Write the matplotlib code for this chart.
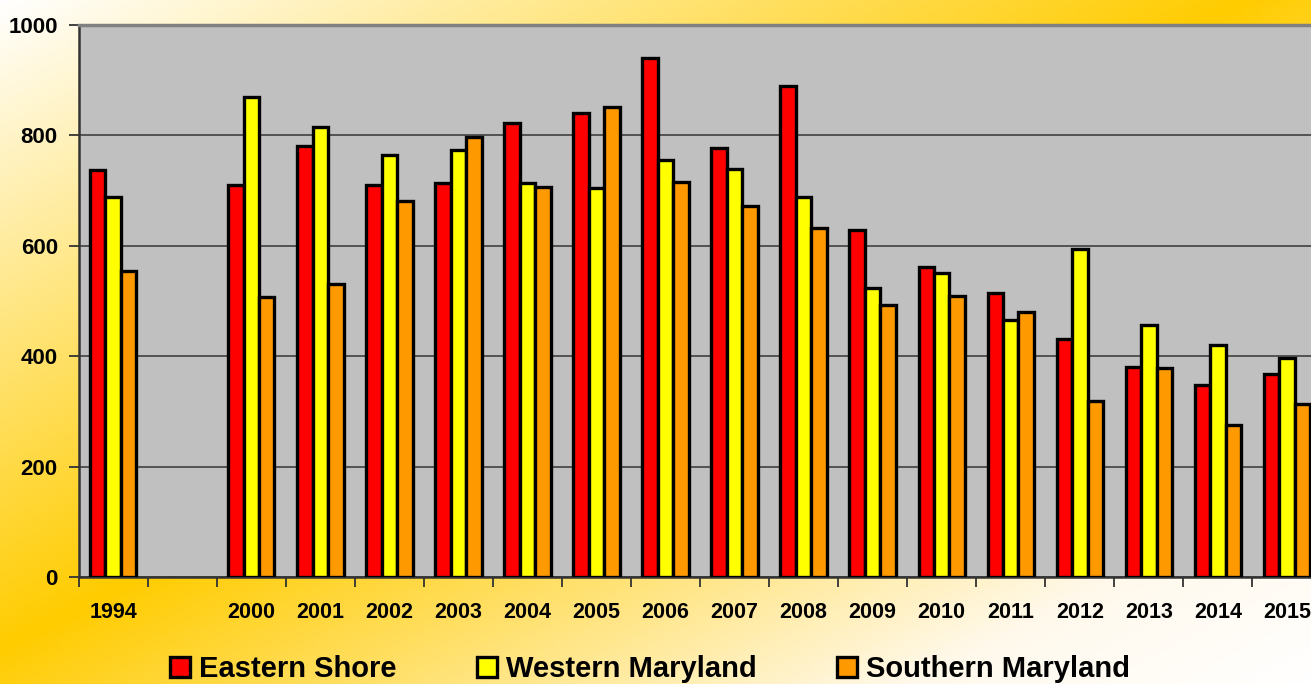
import numpy as np
import matplotlib
matplotlib.use('Agg')
from matplotlib import pyplot as plt
from matplotlib.patches import Patch

plt.rcParams['font.family'] = ['Liberation Sans', 'DejaVu Sans']
plt.rcParams['font.weight'] = 'bold'

years = ['1994', '', '2000', '2001', '2002', '2003', '2004', '2005', '2006',
         '2007', '2008', '2009', '2010', '2011', '2012', '2013', '2014', '2015']
eastern_shore = [737, None, 710, 781, 710, 714, 822, 840, 941,
                 777, 889, 628, 561, 514, 432, 380, 348, 367]
western_maryland = [688, None, 870, 815, 765, 773, 714, 704, 756,
                    739, 688, 523, 550, 466, 595, 457, 420, 396]
southern_maryland = [554, None, 507, 531, 682, 797, 707, 851, 716,
                     672, 632, 492, 509, 480, 319, 378, 275, 314]

series = [('Eastern Shore', eastern_shore, '#FF0000'),
          ('Western Maryland', western_maryland, '#FFFF00'),
          ('Southern Maryland', southern_maryland, '#FF9900')]

W, H = 1311, 684
fig = plt.figure(figsize=(W / 100, H / 100), dpi=100)

# diagonal white -> gold -> cream background
bg = fig.add_axes([0, 0, 1, 1], zorder=-5)
xx, yy = np.meshgrid(np.linspace(0, 1, 400), np.linspace(0, 1, 220))
t = xx + yy
stops = [0.0, 0.95, 1.7, 2.0]
cols = np.array([[255, 255, 255], [255, 204, 0], [255, 249, 236], [255, 255, 255]]) / 255
img = np.dstack([np.interp(t, stops, cols[:, c]) for c in range(3)])
bg.imshow(img, aspect='auto', extent=[0, 1, 1, 0])
bg.set_xlim(0, 1)
bg.set_ylim(1, 0)
bg.axis('off')

left = 78.7 / W
bottom = (H - 577) / H
top = (H - 25) / H
width = (18 * 69.04) / W
ax = fig.add_axes([left, bottom, width, top - bottom])
ax.set_facecolor('#C0C0C0')

bw = 0.224
idx = np.arange(len(years))
for k, (name, vals, color) in enumerate(series):
    xs = [i + (k - 1) * bw for i, v in zip(idx, vals) if v is not None]
    hs = [v for v in vals if v is not None]
    ax.bar(xs, hs, width=bw, color=color, edgecolor='black', linewidth=2.4,
           zorder=3, label=name)

ax.set_xlim(-0.5, len(years) - 0.5)
ax.set_ylim(0, 1000)
ax.set_yticks([0, 200, 400, 600, 800, 1000])
ax.yaxis.grid(True, color='#4a4a4a', linewidth=1.3)
ax.set_axisbelow(True)

ax.set_xticks(idx)
ax.set_xticklabels(years)
ax.set_xticks(np.arange(-0.5, len(years), 1.0), minor=True)
ax.tick_params(axis='x', which='major', length=0, pad=18, labelsize=15.5)
ax.tick_params(axis='x', which='minor', length=7, width=1.3, color='#333333')
ax.tick_params(axis='y', length=7, width=1.3, color='#333333', pad=8, labelsize=16)

for s in ['left', 'bottom']:
    ax.spines[s].set_color('#333333')
    ax.spines[s].set_linewidth(1.8)
ax.spines['top'].set_color('#808080')
ax.spines['top'].set_linewidth(2.5)
ax.spines['right'].set_visible(False)

handles = [Patch(facecolor=c, edgecolor='black', linewidth=2.4) for _, _, c in series]
fig.legend(handles, [n for n, _, _ in series], loc='center', ncol=3,
           bbox_to_anchor=(650 / W, 1 - 669 / H), frameon=False,
           fontsize=21, handlelength=0.7, handleheight=0.7,
           handletextpad=0.3, columnspacing=2.75)

fig.savefig('out.png', dpi=100)
